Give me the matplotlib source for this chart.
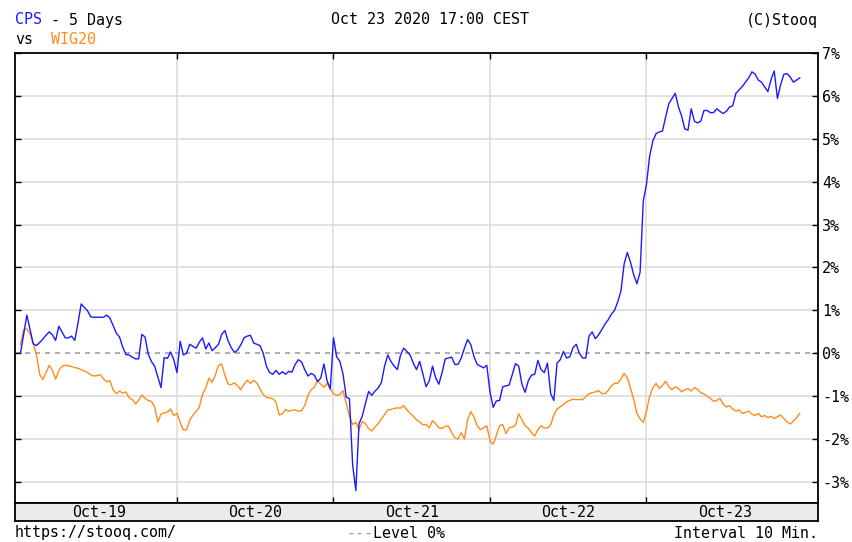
import numpy as np
import matplotlib.pyplot as plt

# CPS vs WIG20, % change, 10 min bars, 5 sessions
days = ['Oct-19', 'Oct-20', 'Oct-21', 'Oct-22', 'Oct-23']

cps_oct19 = [0.0, 0.45, 0.89, 0.55, 0.22, 0.18, 0.25, 0.33, 0.42, 0.5, 0.43, 0.3, 0.63, 0.5, 0.36, 0.36,
             0.4, 0.3, 0.7, 1.15, 1.07, 0.99, 0.85, 0.84, 0.84, 0.84, 0.84, 0.89, 0.82, 0.65, 0.47, 0.38,
             0.15, -0.03, -0.04, -0.09, -0.13, -0.13, 0.44, 0.38, -0.02, -0.19, -0.3, -0.55, -0.8, -0.1,
             -0.12, 0.03, -0.15]
cps_oct20 = [-0.45, 0.28, -0.04, 0.0, 0.21, 0.16, 0.12, 0.26, 0.36, 0.1, 0.24, 0.06, 0.13, 0.21, 0.44, 0.53,
             0.29, 0.13, 0.02, 0.08, 0.2, 0.36, 0.4, 0.42, 0.24, 0.21, 0.18, 0.0, -0.3, -0.45, -0.49, -0.4,
             -0.49, -0.43, -0.49, -0.42, -0.44, -0.26, -0.15, -0.2, -0.38, -0.53, -0.47, -0.51, -0.66,
             -0.58, -0.25, -0.64, -0.83]
cps_oct21 = [0.36, -0.08, -0.19, -0.49, -1.02, -1.06, -2.6, -3.2, -1.64, -1.47, -1.17, -0.89, -0.98, -0.88,
             -0.81, -0.68, -0.3, -0.04, -0.19, -0.3, -0.38, -0.04, 0.12, 0.04, -0.04, -0.23, -0.38, -0.19,
             -0.49, -0.78, -0.64, -0.3, -0.57, -0.72, -0.45, -0.13, -0.11, -0.09, -0.26, -0.26, -0.11, 0.12,
             0.32, 0.2, -0.08, -0.26, -0.3, -0.34, -0.28]
cps_oct22 = [-0.9, -1.26, -1.11, -1.1, -0.78, -0.76, -0.74, -0.49, -0.24, -0.3, -0.72, -0.91, -0.64, -0.51,
             -0.49, -0.17, -0.38, -0.45, -0.23, -0.94, -1.1, -0.23, -0.15, 0.04, -0.11, -0.08, 0.13, 0.21,
             0.0, -0.11, -0.11, 0.4, 0.5, 0.34, 0.43, 0.55, 0.68, 0.78, 0.91, 1.0, 1.2, 1.45, 2.08, 2.35,
             2.12, 1.83, 1.62, 1.89, 3.55]
cps_oct23 = [3.94, 4.6, 4.95, 5.12, 5.16, 5.18, 5.51, 5.82, 5.94, 6.06, 5.75, 5.53, 5.23, 5.2, 5.7, 5.41,
             5.37, 5.41, 5.66, 5.66, 5.61, 5.61, 5.7, 5.64, 5.59, 5.64, 5.74, 5.77, 6.06, 6.14, 6.22, 6.32,
             6.42, 6.56, 6.51, 6.37, 6.32, 6.21, 6.1, 6.38, 6.58, 5.94, 6.26, 6.5, 6.52, 6.44, 6.32, 6.37,
             6.42]

wig_oct19 = [0.2, 0.55, 0.57, 0.45, 0.22, -0.04, -0.49, -0.61, -0.45, -0.28, -0.4, -0.6, -0.4, -0.3, -0.28,
             -0.29, -0.31, -0.33, -0.35, -0.38, -0.41, -0.45, -0.5, -0.53, -0.52, -0.5, -0.6, -0.66, -0.64,
             -0.85, -0.94, -0.88, -0.93, -0.9, -1.03, -1.08, -1.18, -1.1, -0.97, -1.05, -1.1, -1.12, -1.25,
             -1.6, -1.42, -1.39, -1.37, -1.3, -1.45]
wig_oct20 = [-1.4, -1.61, -1.79, -1.78, -1.56, -1.44, -1.36, -1.25, -0.96, -0.81, -0.58, -0.68, -0.51, -0.28,
             -0.25, -0.51, -0.72, -0.73, -0.69, -0.76, -0.85, -0.72, -0.63, -0.7, -0.63, -0.69, -0.83, -0.96,
             -1.03, -1.04, -1.06, -1.13, -1.44, -1.41, -1.31, -1.35, -1.33, -1.32, -1.35, -1.34, -1.22,
             -0.98, -0.85, -0.79, -0.64, -0.72, -0.79, -0.7, -0.83]
wig_oct21 = [-0.94, -0.98, -0.96, -0.87, -1.17, -1.47, -1.66, -1.61, -1.78, -1.59, -1.64, -1.76, -1.81, -1.72,
             -1.64, -1.53, -1.43, -1.32, -1.31, -1.29, -1.27, -1.28, -1.22, -1.32, -1.4, -1.47, -1.55, -1.6,
             -1.67, -1.66, -1.74, -1.57, -1.64, -1.74, -1.75, -1.7, -1.7, -1.85, -1.97, -2.0, -1.85, -2.0,
             -1.55, -1.36, -1.49, -1.69, -1.78, -1.74, -1.69]
wig_oct22 = [-2.04, -2.12, -1.91, -1.69, -1.66, -1.87, -1.74, -1.72, -1.68, -1.41, -1.55, -1.69, -1.75, -1.85,
             -1.93, -1.78, -1.69, -1.74, -1.74, -1.67, -1.44, -1.3, -1.25, -1.19, -1.13, -1.1, -1.07, -1.08,
             -1.08, -1.08, -1.01, -0.94, -0.92, -0.9, -0.87, -0.94, -0.94, -0.87, -0.76, -0.7, -0.7, -0.6,
             -0.47, -0.57, -0.81, -1.08, -1.4, -1.53, -1.61]
wig_oct23 = [-1.35, -1.0, -0.8, -0.7, -0.82, -0.75, -0.65, -0.78, -0.85, -0.78, -0.82, -0.9, -0.85, -0.82,
             -0.88, -0.8, -0.84, -0.92, -0.95, -1.0, -1.05, -1.12, -1.1, -1.05, -1.18, -1.25, -1.22, -1.3,
             -1.35, -1.32, -1.4, -1.38, -1.35, -1.42, -1.45, -1.4, -1.48, -1.45, -1.5, -1.47, -1.52, -1.48,
             -1.44, -1.52, -1.6, -1.65, -1.58, -1.5, -1.4]

cps = [cps_oct19, cps_oct20, cps_oct21, cps_oct22, cps_oct23]
wig = [wig_oct19, wig_oct20, wig_oct21, wig_oct22, wig_oct23]

pct_levels = [7, 6, 5, 4, 3, 2, 1, 0, -1, -2, -3]


def session_x(series):
    # each session squeezed into one unit on the x axis
    return np.concatenate([d + np.arange(len(v)) / len(v) for d, v in enumerate(series)])


plt.rcParams['font.family'] = 'DejaVu Sans Mono'
fs = 10.8
W, H = 852, 542
blue = '#1a1aff'
orange = '#ff8c1a'
xlim = (-0.035, 5.096)

fig = plt.figure(figsize=(W / 100, H / 100), dpi=100)
ax = fig.add_axes([15 / W, 1 - 503 / H, (818 - 15) / W, (503 - 53) / H])
band = fig.add_axes([15 / W, 1 - 521 / H, (818 - 15) / W, (521 - 503) / H])

ax.plot(session_x(wig), np.concatenate(wig), color=orange, lw=1.0)
ax.plot(session_x(cps), np.concatenate(cps), color=blue, lw=1.0)

ax.set_xlim(*xlim)
ax.set_ylim(-3.49, 7)
ax.set_xticks(range(1, len(days)))
ax.set_yticks(pct_levels)
ax.set_yticklabels([f'{p}%' for p in pct_levels])
ax.grid(True, color='#dcdcdc', lw=1.2)
ax.set_axisbelow(True)
for gl, p in zip(ax.get_ygridlines(), pct_levels):
    if p == 0:
        gl.set_color('#a0a0a0')
        gl.set_dashes((3, 3))
ax.tick_params(axis='both', direction='in', length=4, width=1, colors='black',
               top=True, bottom=True, left=True, right=True,
               labelbottom=False, labelleft=False, labelright=True, labelsize=fs)
ax.tick_params(axis='y', pad=3)
for s in ax.spines.values():
    s.set_linewidth(1.3)

band.set_facecolor('#ebebeb')
band.set_xlim(*xlim)
band.set_ylim(0, 1)
band.set_xticks([])
band.set_yticks([])
for s in band.spines.values():
    s.set_linewidth(1.3)
for d, lab in enumerate(days):
    band.text(d + 0.5, 0.45, lab, ha='center', va='center', fontsize=fs)

# header
y1, y2 = 1 - 20 / H, 1 - 40 / H
t = fig.text(15 / W, y1, 'CPS', color=blue, fontsize=fs, va='center')
ax.annotate(' - 5 Days', xy=(1, 0), xycoords=t, va='bottom', ha='left', fontsize=fs)
t2 = fig.text(15 / W, y2, 'vs', fontsize=fs, va='center')
ax.annotate('  WIG20', xy=(1, 0), xycoords=t2, va='bottom', ha='left', fontsize=fs, color=orange)
fig.text(430 / W, y1, 'Oct 23 2020 17:00 CEST', fontsize=fs, va='center', ha='center')
fig.text(818 / W, y1, '(C)Stooq', fontsize=fs, va='center', ha='right')

# footer
yf = 1 - 533 / H
fig.text(15 / W, yf, 'https://stooq.com/', fontsize=fs, va='center')
t3 = fig.text(346 / W, yf, '---', fontsize=fs, va='center', color='#999999')
ax.annotate('Level 0%', xy=(1, 0), xycoords=t3, va='bottom', ha='left', fontsize=fs)
fig.text(818 / W, yf, 'Interval 10 Min.', fontsize=fs, va='center', ha='right')

fig.savefig('out.png', dpi=100)
